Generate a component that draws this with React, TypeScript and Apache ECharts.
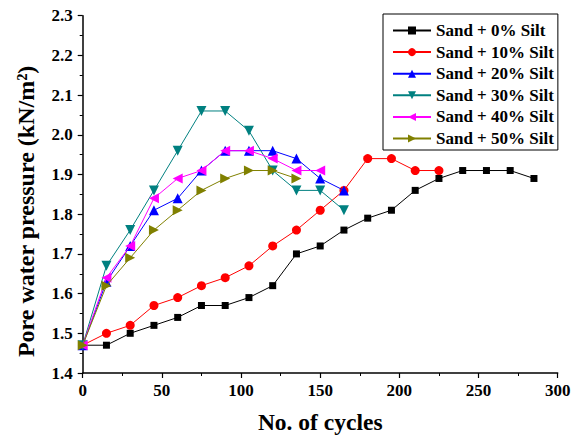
import React, { useEffect, useRef } from "react";
import * as echarts from "echarts";

const seriesNames = [
  "Sand + 0% Silt",
  "Sand + 10% Silt",
  "Sand + 20% Silt",
  "Sand + 30% Silt",
  "Sand + 40% Silt",
  "Sand + 50% Silt",
];

const cycles = [0, 15, 30, 45, 60, 75, 90, 105, 120, 135, 150, 165, 180, 195, 210, 225, 240, 255, 270, 285];

const silt0 = [1.47, 1.47, 1.50, 1.52, 1.54, 1.57, 1.57, 1.59, 1.62, 1.70, 1.72, 1.76, 1.79, 1.81, 1.86, 1.89, 1.91, 1.91, 1.91, 1.89];
const silt10 = [1.47, 1.50, 1.52, 1.57, 1.59, 1.62, 1.64, 1.67, 1.72, 1.76, 1.81, 1.86, 1.94, 1.94, 1.91, 1.91];
const silt20 = [1.47, 1.63, 1.72, 1.81, 1.84, 1.91, 1.96, 1.96, 1.96, 1.94, 1.89, 1.86];
const silt30 = [1.47, 1.67, 1.76, 1.86, 1.96, 2.06, 2.06, 2.01, 1.91, 1.86, 1.86, 1.81];
const silt40 = [1.47, 1.64, 1.72, 1.84, 1.89, 1.91, 1.96, 1.96, 1.94, 1.91, 1.91];
const silt50 = [1.47, 1.62, 1.69, 1.76, 1.81, 1.86, 1.89, 1.91, 1.91, 1.89];

const allValues = [silt0, silt10, silt20, silt30, silt40, silt50];

const colors = ["#000000", "#ff0000", "#0000ff", "#008080", "#ff00ff", "#808000"];
const symbols = [
  "rect",
  "circle",
  "path://M5,0 L10,10 L0,10 Z",
  "path://M0,0 L10,0 L5,10 Z",
  "path://M10,0 L10,10 L0,5 Z",
  "path://M0,0 L0,10 L10,5 Z",
];
const symbolSizes = [7, 9, 10, 10, 10, 10];

const FONT = "'Liberation Serif', 'Times New Roman', serif";

export default function App() {
  const ref = useRef<HTMLDivElement>(null);
  useEffect(() => {
    document.body.style.margin = "0";
    if (!ref.current) return;
    const chart = echarts.init(ref.current, undefined, { renderer: "svg" });
    const series = allValues.map((vals, i) => ({
      name: seriesNames[i],
      type: "line",
      data: vals.map((v, j) => [cycles[j], v]),
      symbol: symbols[i],
      symbolSize: symbolSizes[i],
      showAllSymbol: true,
      lineStyle: { color: colors[i], width: 1 },
      itemStyle: { color: colors[i] },
      z: 2 + i,
    }));
    chart.setOption({
      animation: false,
      backgroundColor: "#ffffff",
      textStyle: { fontFamily: FONT },
      grid: { left: 82.7, right: 19.3, top: 15.7, bottom: 62.3, containLabel: false },
      legend: {
        orient: "vertical",
        left: 383,
        top: 14,
        padding: [8, 4, 3, 9],
        itemWidth: 38,
        itemHeight: 10,
        itemGap: 4.6,
        borderColor: "#000",
        borderWidth: 1,
        backgroundColor: "#fff",
        textStyle: { fontFamily: FONT, fontWeight: "bold", fontSize: 17, color: "#000" },
        data: seriesNames,
      },
      xAxis: {
        type: "value",
        min: 0,
        max: 300,
        interval: 50,
        name: "No. of cycles",
        nameLocation: "middle",
        nameGap: 37,
        nameTextStyle: { fontFamily: FONT, fontWeight: "bold", fontSize: 23.5, color: "#000", verticalAlign: "top" },
        axisLine: { lineStyle: { color: "#000", width: 1.5 } },
        axisTick: { show: true, inside: false, length: 5, lineStyle: { color: "#000", width: 1.2 } },
        minorTick: { show: true, splitNumber: 2, length: 3, lineStyle: { color: "#000", width: 1 } },
        axisLabel: { fontFamily: FONT, fontWeight: "bold", fontSize: 17, color: "#000", margin: 9 },
        splitLine: { show: false },
      },
      yAxis: {
        type: "value",
        min: 1.4,
        max: 2.3,
        interval: 0.1,
        name: "Pore water pressure (kN/m²)",
        nameLocation: "middle",
        nameGap: 45,
        nameTextStyle: { fontFamily: FONT, fontWeight: "bold", fontSize: 24, color: "#000", padding: [0, 34, 0, 0] },
        axisLine: { show: true, lineStyle: { color: "#000", width: 1.5 } },
        axisTick: { show: true, inside: false, length: 5, lineStyle: { color: "#000", width: 1.2 } },
        minorTick: { show: true, splitNumber: 2, length: 3, lineStyle: { color: "#000", width: 1 } },
        axisLabel: {
          fontFamily: FONT,
          fontWeight: "bold",
          fontSize: 17,
          color: "#000",
          margin: 10,
          formatter: (v: number) => v.toFixed(1),
        },
        splitLine: { show: false },
      },
      series,
    });
    return () => chart.dispose();
  }, []);
  return <div ref={ref} style={{ width: 577, height: 439 }} />;
}
